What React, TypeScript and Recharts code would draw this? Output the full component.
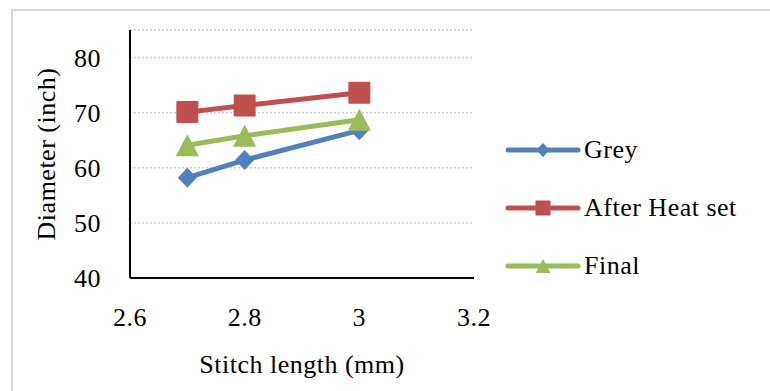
import React from "react";
import { LineChart, Line, XAxis, YAxis, CartesianGrid, Legend } from "recharts";

const stitchLength = [2.7, 2.8, 3.0];
const grey = [58.2, 61.4, 66.8];
const afterHeatSet = [70.1, 71.3, 73.6];
const finalValues = [64.1, 65.8, 68.7];
const xTicks = [2.6, 2.8, 3, 3.2];
const yTicks = [40, 50, 60, 70, 80];
const seriesNames = ["Grey", "After Heat set", "Final"];

const data = stitchLength.map((x, i) => ({
  x,
  grey: grey[i],
  after: afterHeatSet[i],
  final: finalValues[i],
}));

const FONT = "'Liberation Serif', 'Times New Roman', serif";
const FS = 26;
const LS = 0.5;
const BLUE = "#4f81bd";
const RED = "#c0504d";
const GREEN = "#9bbb59";

const shapeFor: Record<string, string> = {
  Grey: "diamond",
  "After Heat set": "square",
  Final: "triangle",
};

function Marker({ shape, cx, cy, s, color }: { shape: string; cx: number; cy: number; s: number; color: string }) {
  if (shape === "diamond") {
    return (
      <polygon
        points={`${cx},${cy - s} ${cx + s * 0.95},${cy} ${cx},${cy + s} ${cx - s * 0.95},${cy}`}
        fill={color}
      />
    );
  }
  if (shape === "square") {
    return <rect x={cx - s} y={cy - s} width={2 * s} height={2 * s} fill={color} rx={1} />;
  }
  return (
    <polygon
      points={`${cx},${cy - s} ${cx + s * 1.05},${cy + s} ${cx - s * 1.05},${cy + s}`}
      fill={color}
    />
  );
}

const makeDot = (shape: string, color: string, s: number) => (props: any) => {
  const { cx, cy, index } = props;
  if (cx == null || cy == null) return <g key={index} />;
  return (
    <g key={`${shape}-${index}`}>
      <Marker shape={shape} cx={cx} cy={cy} s={s} color={color} />
    </g>
  );
};

const renderLegend = (props: any) => {
  const payload = [...(props.payload || [])].sort(
    (a: any, b: any) => seriesNames.indexOf(a.value) - seriesNames.indexOf(b.value)
  );
  return (
    <div style={{ fontFamily: FONT, fontSize: FS, letterSpacing: LS, color: "#000" }}>
      {payload.map((entry: any) => (
        <div
          key={entry.value}
          style={{ display: "flex", alignItems: "center", height: 58, whiteSpace: "nowrap" }}
        >
          <svg width={76} height={24} style={{ display: "block" }}>
            <line x1={3} y1={12} x2={73} y2={12} stroke={entry.color} strokeWidth={5} strokeLinecap="round" />
            <Marker
              shape={shapeFor[entry.value]}
              cx={38}
              cy={12}
              s={shapeFor[entry.value] === "square" ? 7.5 : 7}
              color={entry.color}
            />
          </svg>
          <span style={{ marginLeft: 3 }}>{entry.value}</span>
        </div>
      ))}
    </div>
  );
};

export default function App() {
  return (
    <div style={{ position: "absolute", left: 0, top: 0, width: 770, height: 391, background: "#fff" }}>
      <div
        style={{
          position: "absolute",
          left: 11,
          top: 9,
          width: 770 - 11,
          height: 391 - 9,
          borderLeft: "2px solid #d9d9d9",
          borderTop: "2px solid #d9d9d9",
          boxSizing: "border-box",
        }}
      />
      <div style={{ position: "absolute", left: 0, top: 0 }}>
        <LineChart
          width={770}
          height={391}
          data={data}
          margin={{ top: 30, right: 296, bottom: 0, left: 0 }}
          style={{ fontFamily: FONT }}
        >
          <CartesianGrid
            horizontal={true}
            vertical={false}
            stroke="#d0d0d0"
            strokeWidth={1.5}
            strokeDasharray="2 2"
          />
          <XAxis
            dataKey="x"
            type="number"
            domain={[2.6, 3.2]}
            ticks={xTicks}
            tickFormatter={(v: number) => String(v)}
            height={113}
            axisLine={{ stroke: "#000", strokeWidth: 2 }}
            tickLine={false}
            tickSize={0}
            tickMargin={30}
            tick={{ fill: "#000", fontSize: FS, fontFamily: FONT, letterSpacing: LS }}
            label={{
              value: "Stitch length (mm)",
              position: "center",
              dy: 29,
              fill: "#000",
              fontSize: FS,
              fontFamily: FONT,
              letterSpacing: LS,
            }}
          />
          <YAxis
            type="number"
            domain={[40, 85]}
            ticks={yTicks}
            width={130}
            axisLine={{ stroke: "#000", strokeWidth: 2 }}
            tickLine={false}
            tickSize={0}
            tickMargin={29}
            tick={{ fill: "#000", fontSize: FS, fontFamily: FONT, letterSpacing: LS }}
            label={{
              value: "Diameter (inch)",
              angle: -90,
              position: "center",
              dx: -19,
              fill: "#000",
              fontSize: FS,
              fontFamily: FONT,
              letterSpacing: LS,
            }}
          />
          <Legend
            layout="vertical"
            align="center"
            verticalAlign="middle"
            content={renderLegend}
            wrapperStyle={{ left: 505, top: 121, width: 265 }}
          />
          <Line
            name={seriesNames[0]}
            dataKey="grey"
            stroke={BLUE}
            strokeWidth={5}
            dot={makeDot("diamond", BLUE, 10)}
            isAnimationActive={false}
          />
          <Line
            name={seriesNames[1]}
            dataKey="after"
            stroke={RED}
            strokeWidth={5}
            dot={makeDot("square", RED, 11)}
            isAnimationActive={false}
          />
          <Line
            name={seriesNames[2]}
            dataKey="final"
            stroke={GREEN}
            strokeWidth={5}
            dot={makeDot("triangle", GREEN, 11)}
            isAnimationActive={false}
          />
        </LineChart>
      </div>
    </div>
  );
}
